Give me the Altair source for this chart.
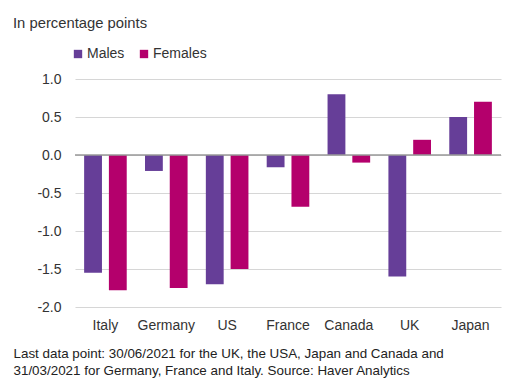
import altair as alt
import pandas as pd

countries = ["Italy", "Germany", "US", "France", "Canada", "UK", "Japan"]
males = [-1.55, -0.21, -1.70, -0.16, 0.80, -1.60, 0.50]
females = [-1.78, -1.75, -1.50, -0.68, -0.10, 0.20, 0.70]
series = ["Males", "Females"]
colors = ["#663E98", "#B4006C"]
y_ticks = [1.0, 0.5, 0.0, -0.5, -1.0, -1.5, -2.0]
footnote = [
    "Last data point: 30/06/2021 for the UK, the USA, Japan and Canada and",
    "31/03/2021 for Germany, France and Italy. Source: Haver Analytics",
]

rows = []
for c, m, f in zip(countries, males, females):
    rows.append({"country": c, "sex": "Males", "value": m})
    rows.append({"country": c, "sex": "Females", "value": f})
df = pd.DataFrame(rows)

FONT = "Liberation Sans"

y_axis = alt.Axis(title=None, values=y_ticks, tickCount=7, labelOverlap=False,
                  labelExpr="replace(format(datum.value, '.1f'), '\u2212', '-')",
                  labelFontSize=14,
                  labelColor="#333333", labelPadding=14, ticks=False, domain=False,
                  gridColor="#d6d6d6", gridWidth=1.2, labelFont=FONT)
y_scale = alt.Scale(domain=[-2.0, 1.0], nice=False)

bars = alt.Chart(df).mark_bar().encode(
    x=alt.X("country:N", sort=countries,
            scale=alt.Scale(paddingInner=0.3, paddingOuter=0.15),
            axis=alt.Axis(title=footnote, labelAngle=0, labelFontSize=14, labelColor="#333333",
                          labelPadding=11, ticks=False, domain=False, labelFont=FONT,
                          titleFont=FONT, titleFontSize=13.4, titleFontWeight="normal",
                          titleColor="#222222", titleAlign="left", titleBaseline="top",
                          titleAnchor="start", titleX=-62, titleY=39, titleLineHeight=17)),
    xOffset=alt.XOffset("sex:N", sort=series, scale=alt.Scale(paddingInner=0.28, paddingOuter=0)),
    y=alt.Y("value:Q", scale=y_scale, axis=y_axis),
    color=alt.Color("sex:N", sort=series,
                    scale=alt.Scale(domain=series, range=colors),
                    legend=alt.Legend(title=None, orient="none", legendX=-4, legendY=-32,
                                      direction="horizontal", symbolType="square",
                                      symbolSize=70, labelFontSize=14, labelFont=FONT,
                                      labelColor="#333333", columnPadding=12,
                                      symbolStrokeWidth=0, labelOffset=2)),
)

zero = alt.Chart(pd.DataFrame({"z": [0.0]})).mark_rule(color="#999999", strokeWidth=1.5).encode(
    y=alt.Y("z:Q", scale=y_scale, axis=y_axis)
)

chart = alt.layer(bars, zero).properties(
    width=426, height=228,
    title=alt.TitleParams(text="In percentage points", anchor="start", frame="group",
                          dx=-62, fontSize=14.8, fontWeight="normal", font=FONT,
                          color="#333333", offset=16),
    autosize=alt.AutoSizeParams(type="none"),
    padding={"left": 67, "top": 71, "right": 4, "bottom": 80},
).configure_view(stroke=None)

chart.save("out.html", embed_options={"renderer": "svg", "actions": False})
